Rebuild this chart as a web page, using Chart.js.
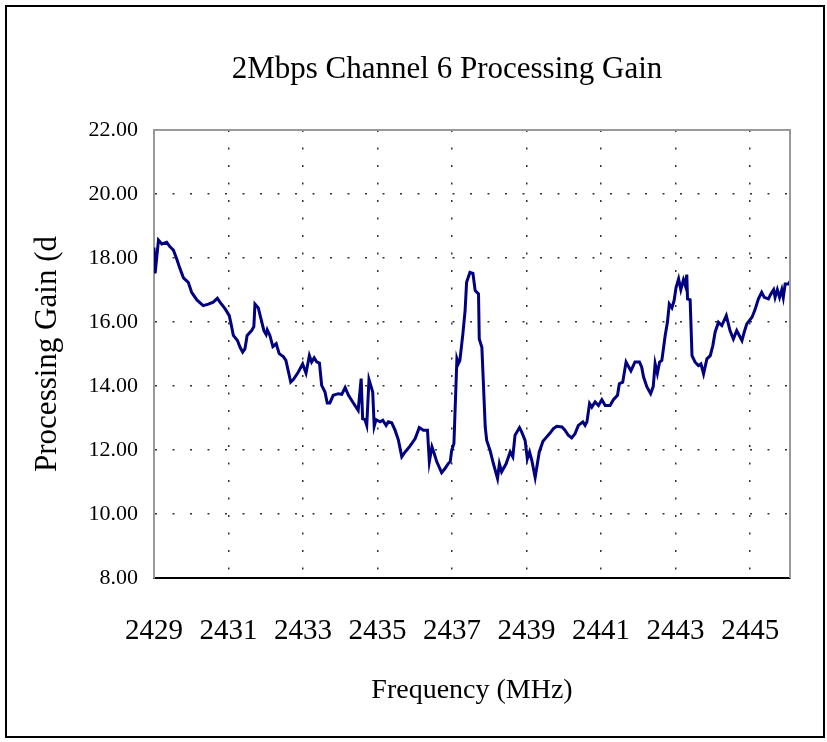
<!DOCTYPE html>
<html>
<head>
<meta charset="utf-8">
<script src="https://cdn.jsdelivr.net/npm/chart.js@4.4.0/dist/chart.umd.min.js"></script>
<style>
  body { margin: 0; background: #fff; }
  canvas { display: block; }
</style>
</head>
<body>
<canvas id="gain-chart" width="827" height="742"></canvas>
<script>
// frequency in MHz
var freqMHz = [
  2429.00, 2429.03, 2429.12, 2429.21, 2429.34, 2429.43, 2429.52, 2429.61, 2429.70, 2429.79,
  2429.92, 2430.01, 2430.15, 2430.32, 2430.46, 2430.59, 2430.70, 2430.77, 2430.91, 2431.02,
  2431.06, 2431.13, 2431.24, 2431.31, 2431.38, 2431.44, 2431.50, 2431.62, 2431.68, 2431.71,
  2431.80, 2431.86, 2431.95, 2432.01, 2432.04, 2432.11, 2432.19, 2432.28, 2432.36, 2432.47,
  2432.54, 2432.67, 2432.74, 2432.87, 2432.99, 2433.08, 2433.17, 2433.23, 2433.30, 2433.37,
  2433.44, 2433.50, 2433.59, 2433.65, 2433.72, 2433.81, 2433.95, 2434.04, 2434.13, 2434.22,
  2434.35, 2434.48, 2434.56, 2434.60, 2434.66, 2434.71, 2434.77, 2434.87, 2434.91, 2434.96,
  2435.07, 2435.14, 2435.23, 2435.29, 2435.38, 2435.47, 2435.56, 2435.65, 2435.74, 2435.87,
  2436.01, 2436.12, 2436.23, 2436.34, 2436.39, 2436.46, 2436.52, 2436.59, 2436.72, 2436.81,
  2436.90, 2436.95, 2436.99, 2437.05, 2437.13, 2437.17, 2437.21, 2437.29, 2437.35, 2437.39,
  2437.48, 2437.56, 2437.62, 2437.71, 2437.73, 2437.80, 2437.89, 2437.93, 2438.02, 2438.11,
  2438.22, 2438.27, 2438.33, 2438.45, 2438.56, 2438.63, 2438.69, 2438.81, 2438.87, 2438.96,
  2439.02, 2439.08, 2439.14, 2439.23, 2439.34, 2439.44, 2439.54, 2439.63, 2439.72, 2439.81,
  2439.95, 2440.03, 2440.12, 2440.21, 2440.30, 2440.39, 2440.51, 2440.57, 2440.62, 2440.69,
  2440.75, 2440.84, 2440.93, 2441.02, 2441.11, 2441.24, 2441.33, 2441.44, 2441.49, 2441.58,
  2441.67, 2441.80, 2441.91, 2442.03, 2442.09, 2442.14, 2442.23, 2442.33, 2442.40, 2442.45,
  2442.51, 2442.57, 2442.63, 2442.72, 2442.78, 2442.83, 2442.90, 2442.96, 2443.01, 2443.08,
  2443.14, 2443.21, 2443.26, 2443.30, 2443.32, 2443.39, 2443.44, 2443.52, 2443.61, 2443.68,
  2443.75, 2443.84, 2443.93, 2444.00, 2444.06, 2444.15, 2444.24, 2444.36, 2444.46, 2444.55,
  2444.64, 2444.78, 2444.84, 2444.91, 2445.05, 2445.13, 2445.22, 2445.31, 2445.38, 2445.49,
  2445.56, 2445.63, 2445.67, 2445.73, 2445.79, 2445.85, 2445.89, 2445.94, 2446.03, 2446.07
];

// processing gain in dB
var gainDb = [
  18.33, 17.52, 18.56, 18.44, 18.49, 18.35, 18.25, 17.97, 17.66, 17.38,
  17.24, 16.93, 16.69, 16.51, 16.56, 16.62, 16.74, 16.62, 16.41, 16.20,
  15.99, 15.58, 15.42, 15.21, 15.06, 15.16, 15.58, 15.73, 15.86, 16.56,
  16.44, 16.15, 15.73, 15.61, 15.75, 15.58, 15.23, 15.32, 15.01, 14.92,
  14.80, 14.12, 14.20, 14.43, 14.69, 14.40, 14.95, 14.75, 14.88, 14.75,
  14.72, 14.02, 13.81, 13.47, 13.47, 13.71, 13.76, 13.74, 13.95, 13.71,
  13.47, 13.24, 14.23, 12.98, 12.95, 12.77, 14.20, 13.81, 12.74, 12.95,
  12.88, 12.93, 12.77, 12.88, 12.85, 12.62, 12.31, 11.79, 11.94, 12.12,
  12.36, 12.70, 12.62, 12.62, 11.63, 12.10, 11.89, 11.63, 11.29, 11.42,
  11.58, 11.63, 11.99, 12.20, 14.85, 14.70, 14.80, 15.63, 16.36, 17.24,
  17.55, 17.52, 16.98, 16.88, 15.47, 15.21, 12.72, 12.30, 11.99, 11.57,
  11.11, 11.57, 11.32, 11.57, 11.94, 11.79, 12.46, 12.70, 12.56, 12.30,
  11.73, 11.94, 11.68, 11.14, 11.94, 12.27, 12.41, 12.53, 12.67, 12.74,
  12.72, 12.62, 12.46, 12.38, 12.51, 12.77, 12.88, 12.77, 12.88, 13.45,
  13.34, 13.50, 13.39, 13.57, 13.39, 13.39, 13.57, 13.71, 14.07, 14.12,
  14.75, 14.47, 14.75, 14.75, 14.59, 14.28, 13.97, 13.76, 13.99, 14.70,
  14.39, 14.75, 14.80, 15.58, 15.99, 16.56, 16.44, 16.67, 17.07, 17.35,
  17.01, 17.32, 17.14, 17.48, 16.72, 16.69, 14.95, 14.75, 14.64, 14.69,
  14.38, 14.85, 14.95, 15.27, 15.68, 15.99, 15.89, 16.20, 15.73, 15.47,
  15.73, 15.42, 15.68, 15.94, 16.15, 16.38, 16.72, 16.93, 16.77, 16.72,
  16.88, 17.01, 16.77, 17.01, 16.77, 17.01, 16.77, 17.19, 17.19, 17.27
];

var xTicks = [2429, 2431, 2433, 2435, 2437, 2439, 2441, 2443, 2445];
var yTicks = [8, 10, 12, 14, 16, 18, 20, 22];
var chartTitle = "2Mbps Channel 6 Processing Gain";

var FONT = "'Liberation Serif', 'Times New Roman', serif";

var points = [];
for (var i = 0; i < freqMHz.length; i++) {
  points.push({ x: freqMHz[i], y: gainDb[i] });
}

// white page, black outer frame, grey box on top/right of the plot, title
var framePlugin = {
  id: "frame",
  beforeDraw: function(chart) {
    var ctx = chart.ctx;
    ctx.save();
    ctx.fillStyle = "#fff";
    ctx.fillRect(0, 0, chart.width, chart.height);
    ctx.restore();
  },
  afterDraw: function(chart) {
    var ctx = chart.ctx;
    var a = chart.chartArea;
    ctx.save();
    ctx.strokeStyle = "#999";
    ctx.lineWidth = 2;
    ctx.beginPath();
    ctx.moveTo(a.left, a.top);
    ctx.lineTo(a.right, a.top);
    ctx.lineTo(a.right, a.bottom);
    ctx.stroke();

    ctx.strokeStyle = "#000";
    ctx.lineWidth = 2;
    ctx.strokeRect(6, 6, 818, 731);

    // title sits a bit right of the page centre, like the original
    ctx.fillStyle = "#000";
    ctx.font = "31px " + FONT;
    ctx.textAlign = "center";
    ctx.textBaseline = "middle";
    ctx.fillText(chartTitle, 447, 70);
    ctx.restore();
  }
};

var ctx = document.getElementById("gain-chart");

var chart = new Chart(ctx, {
  type: "line",
  data: {
    datasets: [
      {
        label: "Processing Gain",
        data: points,
        borderColor: "#000080",
        borderWidth: 3,
        fill: false,
        tension: 0,
        pointRadius: 0
      }
    ]
  },
  options: {
    responsive: false,
    animation: false,
    layout: { padding: { left: 0, right: 37, top: 130, bottom: 0 } },
    plugins: {
      legend: { display: false },
      tooltip: { enabled: false },
      title: { display: false }
    },
    scales: {
      x: {
        type: "linear",
        min: 2429,
        max: 2446.07,
        afterBuildTicks: function(scale) {
          scale.ticks = xTicks.map(function(v) { return { value: v }; });
        },
        afterFit: function(scale) { scale.height = 164; },
        ticks: {
          color: "#000",
          padding: 36,
          maxRotation: 0,
          autoSkip: false,
          font: { family: FONT, size: 29 },
          callback: function(v) { return String(v); }
        },
        grid: {
          drawTicks: false,
          color: function(c) { return c.tick && c.tick.value === 2429 ? "rgba(0,0,0,0)" : "#333"; },
          lineWidth: 1.5
        },
        border: { display: true, color: "#000", width: 2, dash: [2, 15.5], dashOffset: 0 },
        title: {
          display: true,
          text: "Frequency (MHz)",
          color: "#000",
          font: { family: FONT, size: 28, lineHeight: 1.2 },
          padding: { top: 0, bottom: 35 }
        }
      },
      y: {
        min: 8,
        max: 22,
        afterBuildTicks: function(scale) {
          scale.ticks = yTicks.map(function(v) { return { value: v }; });
        },
        afterFit: function(scale) { scale.width = 154; },
        ticks: {
          color: "#000",
          padding: 16,
          font: { family: FONT, size: 22 },
          callback: function(v) { return Number(v).toFixed(2); }
        },
        grid: {
          drawTicks: false,
          color: function(c) {
            var v = c.tick ? c.tick.value : null;
            return v === 8 || v === 22 ? "rgba(0,0,0,0)" : "#333";
          },
          lineWidth: 1.5
        },
        border: { display: true, color: "#999", width: 2, dash: [2, 15.5], dashOffset: 0 },
        title: {
          display: true,
          text: "Processing Gain (d",
          color: "#000",
          font: { family: FONT, size: 31, lineHeight: 1.2 },
          padding: { top: 29, bottom: 0 }
        }
      }
    }
  },
  plugins: [framePlugin]
});
</script>
</body>
</html>
